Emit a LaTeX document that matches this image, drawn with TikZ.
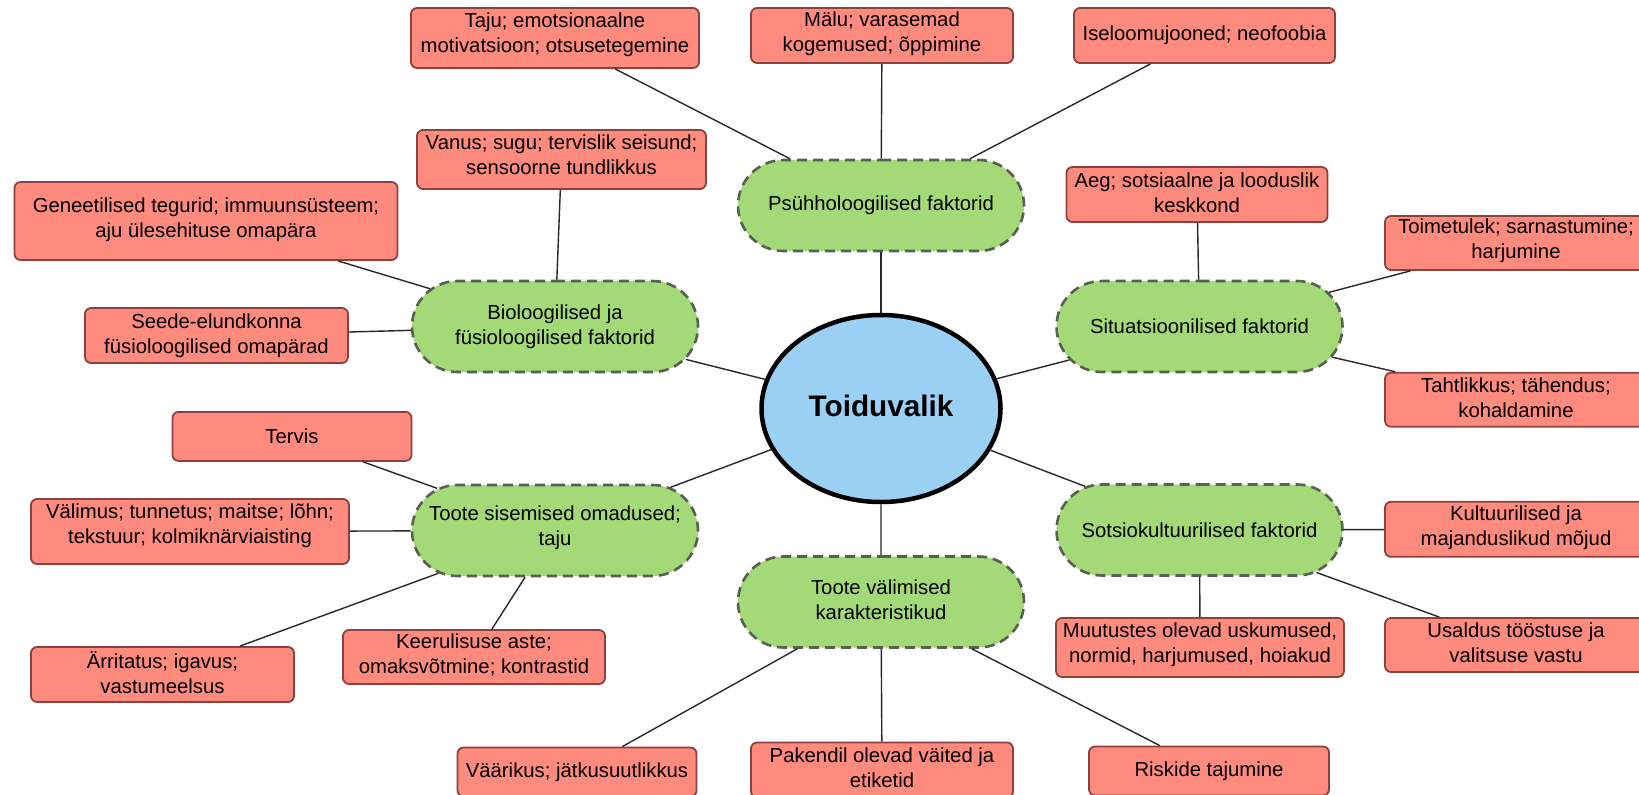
\documentclass[tikz,border=0pt]{standalone}
\usepackage{fontspec}
\setmainfont{Liberation Sans}
\usetikzlibrary{shapes.geometric,shapes.misc}
\definecolor{redfill}{RGB}{255,139,126}
\definecolor{redline}{RGB}{140,66,60}
\definecolor{greenfill}{RGB}{163,217,119}
\definecolor{greenline}{RGB}{88,96,82}
\definecolor{bluefill}{RGB}{153,208,243}
\definecolor{linecol}{RGB}{40,40,40}
\tikzset{
  txt/.style={font=\fontsize{20.3}{25}\selectfont},
  sz/.style 2 args={minimum width=#1pt,minimum height=#2pt},
  td/.style={text depth=#1pt},
  redbox/.style={txt,draw=redline,fill=redfill,line width=1.8pt,rounded corners=6pt,inner sep=0pt,align=center},
  greenbox/.style={txt,rounded rectangle,draw=greenline,fill=greenfill,line width=2.6pt,dash pattern=on 10pt off 6pt,minimum width=286pt,minimum height=91pt,inner sep=0pt,align=center},
  hub/.style={ellipse,draw=black,line width=4.5pt,fill=bluefill,minimum width=239pt,minimum height=187pt,inner sep=0pt,font=\bfseries\fontsize{29.7}{34}\selectfont},
  link/.style={draw=linecol,line width=1.4pt}
}
\begin{document}
\begin{tikzpicture}[x=1pt,y=-1pt]
\useasboundingbox (0,0) rectangle (1639,795);
\clip (0,0) rectangle (1639,795);
% hub
\node[hub,td=5] (hub) at (881,408.5) {Toiduvalik};
% green
\node[greenbox] (psy) at (881,205.5) {Psühholoogilised faktorid};
\node[greenbox] (bio) at (555,326.5) {Bioloogilised ja\\füsioloogilised faktorid};
\node[greenbox] (sit) at (1199.5,326.5) {Situatsioonilised faktorid};
\node[greenbox,td=10.3] (sis) at (555,530.5) {Toote sisemised omadused;\\taju};
\node[greenbox] (sot) at (1199.5,530) {Sotsiokultuurilised faktorid};
\node[greenbox,td=5.2] (val) at (881,602) {Toote välimised\\karakteristikud};
% red
\node[redbox,sz={288}{60},td=11.3] (taju) at (555,38) {Taju; emotsionaalne\\motivatsioon; otsusetegemine};
\node[redbox,sz={262}{55},td=8.3] (malu) at (882,35.5) {Mälu; varasemad\\kogemused; õppimine};
\node[redbox,sz={261}{55}] (isel) at (1204.5,35.5) {Iseloomujooned; neofoobia};
\node[redbox,sz={289}{59},td=9.2] (vanus) at (561.5,159.5) {Vanus; sugu; tervislik seisund;\\sensoorne tundlikkus};
\node[redbox,sz={383}{78},td=6.3] (gene) at (206,221) {Geneetilised tegurid; immuunsüsteem;\\aju ülesehituse omapära};
\node[redbox,sz={263}{55}] (seede) at (216.5,335.5) {Seede-elundkonna\\füsioloogilised omapärad};
\node[redbox,sz={261}{55},td=4.2] (aeg) at (1197,194.5) {Aeg; sotsiaalne ja looduslik\\keskkond};
\node[redbox,sz={262}{54},td=8.3] (toim) at (1516,243) {Toimetulek; sarnastumine;\\harjumine};
\node[redbox,sz={262}{54},td=4.2] (taht) at (1516,399.7) {Tahtlikkus; tähendus;\\kohaldamine};
\node[redbox,sz={239}{49}] (tervis) at (292,436.4) {Tervis};
\node[redbox,sz={318}{65},td=15.3] (valim) at (190,531.5) {Välimus; tunnetus; maitse; lõhn;\\tekstuur; kolmiknärviaisting};
\node[redbox,sz={263}{55},td=4.2] (arr) at (162.5,674.5) {Ärritatus; igavus;\\vastumeelsus};
\node[redbox,sz={262}{54},td=7] (keer) at (474,657) {Keerulisuse aste;\\omaksvõtmine; kontrastid};
\node[redbox,sz={262}{55},td=8.3] (kult) at (1516,529.3) {Kultuurilised ja\\majanduslikud mõjud};
\node[redbox,sz={262}{54},td=4.2] (usal) at (1516,645) {Usaldus tööstuse ja\\valitsuse vastu};
\node[redbox,sz={288}{59},td=10.3] (muut) at (1200,647.5) {Muutustes olevad uskumused,\\normid, harjumused, hoiakud};
\node[redbox,sz={239}{49}] (vaar) at (577,772) {Väärikus; jätkusuutlikkus};
\node[redbox,sz={262}{55},td=4.2] (paken) at (882,770) {Pakendil olevad väited ja\\etiketid};
\node[redbox,sz={240}{49}] (risk) at (1209,771) {Riskide tajumine};
% links
\draw[link] (hub) -- (psy);
\draw[link] (hub) -- (bio);
\draw[link] (hub) -- (sit);
\draw[link] (hub) -- (sis);
\draw[link] (hub) -- (sot);
\draw[link] (hub) -- (val);
\draw[link] (psy) -- (taju);
\draw[link] (psy) -- (malu);
\draw[link] (psy) -- (isel);
\draw[link] (bio) -- (vanus);
\draw[link] (bio) -- (gene);
\draw[link] (bio) -- (seede);
\draw[link] (sit) -- (aeg);
\draw[link] (sit) -- (toim);
\draw[link] (sit) -- (taht);
\draw[link] (sis) -- (tervis);
\draw[link] (sis) -- (valim);
\draw[link] (sis) -- (arr);
\draw[link] (sis) -- (keer);
\draw[link] (sot) -- (kult);
\draw[link] (sot) -- (usal);
\draw[link] (sot) -- (muut);
\draw[link] (val) -- (vaar);
\draw[link] (val) -- (paken);
\draw[link] (val) -- (risk);
\end{tikzpicture}
\end{document}
